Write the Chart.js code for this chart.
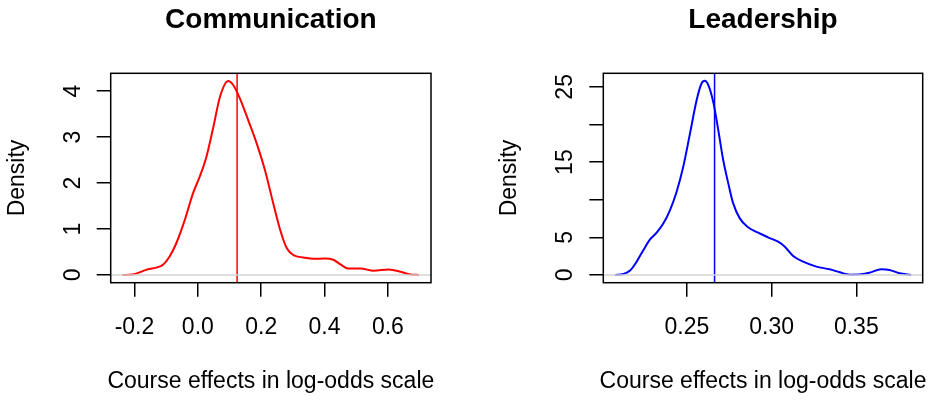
<!DOCTYPE html>
<html>
<head>
<meta charset="utf-8">
<script src="https://cdn.jsdelivr.net/npm/chart.js@4"></script>
<style>
  html, body { margin: 0; padding: 0; background: #fff; }
  #wrap { position: relative; width: 935px; height: 401px; }
  #wrap canvas { position: absolute; top: 0; }
</style>
</head>
<body>
<div id="wrap">
  <canvas id="commChart" width="467" height="401" style="left:0;width:467px;height:401px"></canvas>
  <canvas id="leadChart" width="468" height="401" style="left:467px;width:468px;height:401px"></canvas>
</div>
<script>
// Communication density curve
const commX = [-0.238, -0.205, -0.163, -0.131, -0.110, -0.089, -0.068, -0.041, -0.015, 0.006, 0.027, 0.049, 0.070, 0.096,
    0.112, 0.133, 0.159, 0.186, 0.212, 0.238, 0.260, 0.281, 0.302, 0.334, 0.365, 0.402, 0.428, 0.450, 0.476, 0.513,
    0.555, 0.603, 0.640, 0.671, 0.698];
const commY = [0, 0.01, 0.11, 0.16, 0.22, 0.40, 0.69, 1.20, 1.78, 2.14, 2.57, 3.22, 3.88, 4.22,
    4.13, 3.84, 3.37, 2.86, 2.28, 1.56, 0.98, 0.58, 0.43, 0.38, 0.35, 0.36, 0.33, 0.23, 0.14, 0.14,
    0.09, 0.12, 0.07, 0.01, 0];
const commMean = 0.124;
const commXTicks = [-0.2, 0.0, 0.2, 0.4, 0.6];
const commYTicks = [0, 1, 2, 3, 4];
const commYLabels = ['0', '1', '2', '3', '4'];

// Leadership density curve
const leadX = [0.2076, 0.2125, 0.2164, 0.2203, 0.2243, 0.2282, 0.2321, 0.2361, 0.2400, 0.2439, 0.2478, 0.2518, 0.2557,
    0.2586, 0.2606, 0.2626, 0.2655, 0.2685, 0.2714, 0.2744, 0.2773, 0.2812, 0.2861, 0.2920, 0.2979, 0.3038, 0.3078,
    0.3127, 0.3186, 0.3264, 0.3343, 0.3402, 0.3461, 0.3529, 0.3579, 0.3647, 0.3696, 0.3755, 0.3824];
const leadY = [0, 0.13, 0.58, 1.77, 3.32, 4.73, 5.62, 6.86, 8.63, 11.06, 14.38, 18.81, 23.23,
    25.44, 25.8, 25.22, 23.01, 19.25, 15.27, 12.17, 9.51, 7.52, 6.33, 5.62, 5.0, 4.42, 3.76,
    2.52, 1.77, 1.11, 0.75, 0.35, 0.04, 0.09, 0.31, 0.75, 0.66, 0.22, 0];
const leadMean = 0.2663;
const leadXTicks = [0.25, 0.30, 0.35];
const leadYTicks = [0, 5, 10, 15, 20, 25];
const leadYLabels = ['0', '5', '', '15', '', '25'];

const xTitle = 'Course effects in log-odds scale';
const yTitle = 'Density';
const FONT = '"Liberation Sans", Arial, Helvetica, sans-serif';

// R-style box, tick labels and titles, placed with the chart's own scales
const rTextPlugin = {
    id: 'rText',
    afterDraw(chart) {
        const o = chart.options.plugins.rText;
        const ctx = chart.ctx;
        const area = chart.chartArea;
        const xs = chart.scales.x, ys = chart.scales.y;
        ctx.save();
        ctx.strokeStyle = '#000';
        ctx.lineWidth = 1.5;
        ctx.strokeRect(area.left, area.top, area.right - area.left, area.bottom - area.top);

        ctx.fillStyle = '#000';
        ctx.font = '23px ' + FONT;
        ctx.textAlign = 'center';
        ctx.textBaseline = 'alphabetic';
        o.xTicks.forEach((v, i) => {
            ctx.fillText(o.xLabels[i], xs.getPixelForValue(v), area.bottom + 51);
        });
        ctx.fillText(xTitle, (area.left + area.right) / 2, area.bottom + 105.5);

        o.yTicks.forEach((v, i) => {
            if (!o.yLabels[i]) return;
            ctx.save();
            ctx.translate(area.left - 31, ys.getPixelForValue(v));
            ctx.rotate(-Math.PI / 2);
            ctx.fillText(o.yLabels[i], 0, 0);
            ctx.restore();
        });
        ctx.save();
        ctx.translate(area.left - 87, (area.top + area.bottom) / 2);
        ctx.rotate(-Math.PI / 2);
        ctx.fillText(yTitle, 0, 0);
        ctx.restore();

        ctx.font = 'bold 28px ' + FONT;
        ctx.fillText(o.title, (area.left + area.right) / 2, area.top - 45);
        ctx.restore();
    }
};

function makeChart(canvasId, cfg) {
    const ctx = document.getElementById(canvasId).getContext('2d');
    const curve = cfg.xs.map((x, i) => ({ x: x, y: cfg.ys[i] }));
    return new Chart(ctx, {
        type: 'line',
        data: {
            datasets: [
                {
                    data: [{ x: cfg.xMin, y: 0 }, { x: cfg.xMax, y: 0 }],
                    borderColor: '#d3d3d3',
                    borderWidth: 1.5,
                    pointRadius: 0
                },
                {
                    data: curve,
                    borderColor: cfg.color,
                    borderWidth: 2,
                    pointRadius: 0,
                    cubicInterpolationMode: 'monotone'
                },
                {
                    data: [{ x: cfg.mean, y: cfg.yMin }, { x: cfg.mean, y: cfg.yMax }],
                    borderColor: cfg.color,
                    borderWidth: 1.5,
                    pointRadius: 0
                }
            ]
        },
        options: {
            responsive: false,
            animation: false,
            events: [],
            layout: { padding: cfg.padding },
            scales: {
                x: {
                    type: 'linear',
                    min: cfg.xMin,
                    max: cfg.xMax,
                    afterBuildTicks: s => { s.ticks = cfg.xTicks.map(v => ({ value: v })); },
                    afterFit: s => { s.height = 0; },
                    ticks: { display: false },
                    border: { display: false },
                    grid: { drawOnChartArea: false, drawTicks: true, tickLength: 14, color: '#000', lineWidth: 1.5 }
                },
                y: {
                    type: 'linear',
                    min: cfg.yMin,
                    max: cfg.yMax,
                    afterBuildTicks: s => { s.ticks = cfg.yTicks.map(v => ({ value: v })); },
                    afterFit: s => { s.width = 0; },
                    ticks: { display: false },
                    border: { display: false },
                    grid: { drawOnChartArea: false, drawTicks: true, tickLength: 14, color: '#000', lineWidth: 1.5 }
                }
            },
            plugins: {
                legend: { display: false },
                tooltip: { enabled: false },
                rText: {
                    title: cfg.title,
                    xTicks: cfg.xTicks,
                    xLabels: cfg.xLabels,
                    yTicks: cfg.yTicks,
                    yLabels: cfg.yLabels
                }
            }
        },
        plugins: [rTextPlugin]
    });
}

makeChart('commChart', {
    title: 'Communication',
    xs: commX, ys: commY, mean: commMean, color: '#ff0000',
    xMin: -0.275, xMax: 0.736, yMin: -0.169, yMax: 4.39,
    xTicks: commXTicks, xLabels: commXTicks.map(v => v.toFixed(1)),
    yTicks: commYTicks, yLabels: commYLabels,
    padding: { left: 110.7, top: 73.3, right: 36, bottom: 118.3 }
});

makeChart('leadChart', {
    title: 'Leadership',
    xs: leadX, ys: leadY, mean: leadMean, color: '#0000ff',
    xMin: 0.2006, xMax: 0.3892, yMin: -1.03, yMax: 26.8,
    xTicks: leadXTicks, xLabels: leadXTicks.map(v => v.toFixed(2)),
    yTicks: leadYTicks, yLabels: leadYLabels,
    padding: { left: 136.3, top: 73.3, right: 12.3, bottom: 118.3 }
});
</script>
</body>
</html>
